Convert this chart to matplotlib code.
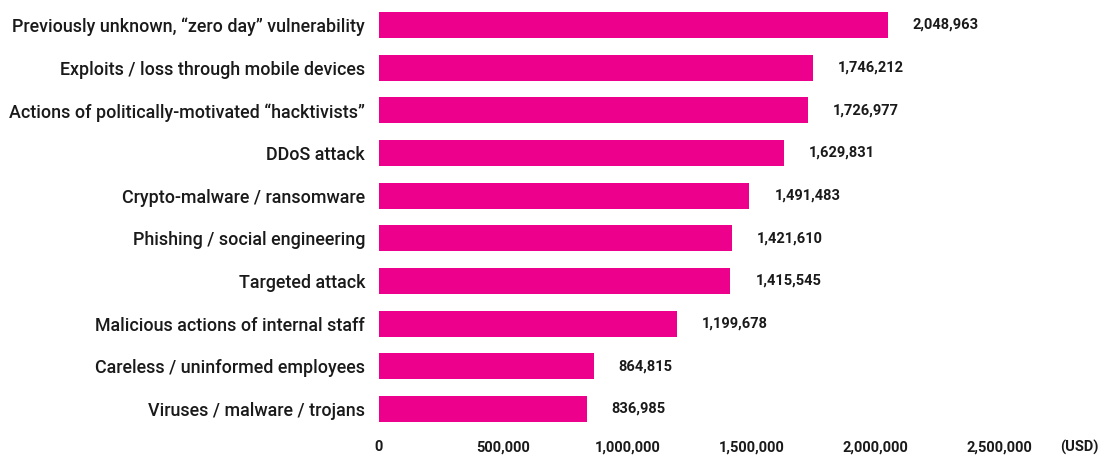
import matplotlib
matplotlib.use("Agg")
import matplotlib.pyplot as plt

categories = [
    "Previously unknown, \u201czero day\u201d vulnerability",
    "Exploits / loss through mobile devices",
    "Actions of politically-motivated \u201chacktivists\u201d",
    "DDoS attack",
    "Crypto-malware / ransomware",
    "Phishing / social engineering",
    "Targeted attack",
    "Malicious actions of internal staff",
    "Careless / uninformed employees",
    "Viruses / malware / trojans",
]
values = [2048963, 1746212, 1726977, 1629831, 1491483, 1421610, 1415545, 1199678, 864815, 836985]
xticks = [0, 500000, 1000000, 1500000, 2000000, 2500000]
unit_label = "(USD)"

W, H = 1103, 455
fig = plt.figure(figsize=(W / 100, H / 100), dpi=100)
left_px, right_px = 379, 1103
top_px, bottom_px = 0, 432
ax = fig.add_axes([left_px / W, 1 - bottom_px / H, (right_px - left_px) / W, (bottom_px - top_px) / H])

color = "#EC008C"
ys = list(range(len(categories)))
ax.barh(ys, values, height=0.61, color=color, zorder=2)

ax.set_xlim(0, (right_px - left_px) / 248.3 * 1e6)
spacing = (409 - 25) / 9
ax.set_ylim((bottom_px - 25) / spacing, -(25 - top_px) / spacing)

font = "Roboto"
ax.set_yticks(ys)
ax.set_yticklabels(categories, fontsize=12.85, fontweight="medium", color="#1a1a1a", fontfamily=font)
ax.set_xticks(xticks)
ax.set_xticklabels([f"{t:,}" for t in xticks], fontsize=10.5, fontweight="bold", color="#1a1a1a", fontfamily=font)
ax.tick_params(axis="y", length=0, pad=10)
ax.tick_params(axis="x", length=0, pad=6)
for s in ax.spines.values():
    s.set_visible(False)

off = 25 / 248.3 * 1e6
for y, v in zip(ys, values):
    ax.text(v + off, y, f"{v:,}", va="center", ha="left", fontsize=10.5, fontweight="bold",
            color="#1a1a1a", fontfamily=font)

ax.annotate(unit_label, xy=(2820000, 0), xycoords=("data", "axes fraction"), xytext=(0, -6),
            textcoords="offset points", ha="center", va="top", fontsize=10.5, fontweight="bold",
            color="#1a1a1a", fontfamily=font)

fig.savefig("out.png", dpi=100)
